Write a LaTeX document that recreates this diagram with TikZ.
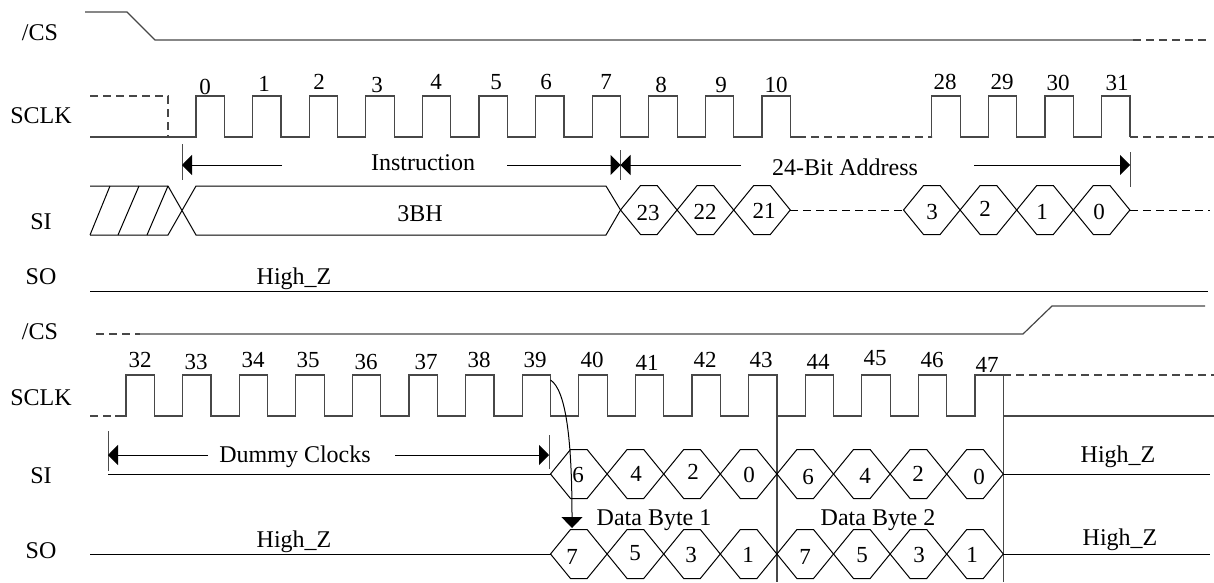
\documentclass[tikz,border=0pt]{standalone}
\usepackage{fontspec}
\setmainfont{Liberation Serif}
\usetikzlibrary{arrows.meta}
\newcommand\myhex[3]{\draw[sig] (#1,#2) -- ++(20,-#3) -- ++(16.6,0) -- ++(20,#3) -- ++(-20,#3) -- ++(-16.6,0) -- cycle;}
\begin{document}
\begin{tikzpicture}[x=1pt,y=-1pt,
  clk/.style={draw=black!72,line width=1.2pt},
  sig/.style={draw=black,line width=1pt},
  dsh/.style={dash pattern=on 8pt off 5pt},
  lbl/.style={font=\fontsize{24}{24}\selectfont,inner sep=0pt,text height=16pt,text depth=0pt},
  num/.style={font=\fontsize{23}{23}\selectfont,inner sep=0pt,text height=15.5pt,text depth=0pt},
  dim/.style={line width=1pt,-{Triangle[length=10pt,width=20pt]}},
  tickln/.style={line width=1pt,draw=black!70}
]
\useasboundingbox (0,0) rectangle (1214,582);

% signal names
\node[lbl] (cs1) at (40,32) {/CS};
\node[lbl] (sclk1) at (41,115) {SCLK};
\node[lbl] (si1) at (41,221) {SI};
\node[lbl] (so1) at (41,276) {SO};
\node[lbl] (cs2) at (40,331) {/CS};
\node[lbl] (sclk2) at (41,397) {SCLK};
\node[lbl] (si2) at (41,475) {SI};
\node[lbl] (so2) at (41,550) {SO};

% ---------- top /CS
\draw[clk] (85,12) -- (127,12) -- (155,40) -- (1133,40);
\draw[clk,dsh] (1133,40) -- (1207,40);

% ---------- top SCLK
\draw[clk,dsh] (90,96) -- (168,96) -- (168,137);
\draw[clk] (90,137) \foreach \k in {0,...,10} { -- ({196+56.6*\k},137) -- ++(0,-41) -- ++(28.3,0) -- ++(0,41) } -- (798,137);
\draw[clk,dsh] (798,137) -- (931.8,137);
\draw[clk] (931.8,137) \foreach \k in {13,...,16} { -- ({196+56.6*\k},137) -- ++(0,-41) -- ++(28.3,0) -- ++(0,41) };
\draw[clk,dsh] (1130,137) -- (1214,137);

\foreach \t/\x/\y [count=\i] in {0/205/87,1/264/84,2/319/82,3/377/85,4/436/82,5/496/82,6/546/82,7/606/82,8/661/85,9/721/85,10/776/85,28/945/82,29/1002/82,30/1058/83,31/1117/83}
  \node[num] (ta\i) at (\x,\y) {\t};

% ---------- Instruction / address dimension
\draw[tickln] (182,144) -- (182,180);
\draw[tickln] (620.5,150) -- (620.5,180);
\draw[tickln] (1130,152) -- (1130,187);
\draw[dim] (282,165) -- (182,165);
\draw[dim] (507,165) -- (620.5,165);
\draw[dim] (741,165) -- (620.5,165);
\draw[dim] (974,165) -- (1130,165);
\node[lbl] (instr) at (423,162) {Instruction};
\node[lbl] (addr) at (845,167) {24-Bit Address};

% ---------- top SI
\draw[sig] (90,186) -- (168,186) -- (196,235) -- (606,235) -- (620.5,210) -- (606,186) -- (196,186) -- (168,235) -- (90,235);
\draw[sig] (90,235) -- (110,186) (118,235) -- (139,186) (147,235) -- (168,186);
\node[lbl] (bh) at (420,213) {3BH};
\foreach \j in {0,1,2} {\myhex{620.5+56.6*\j}{210}{24.5}}
\draw[sig,dsh] (790.3,210) -- (903.5,210);
\foreach \j in {0,1,2,3} {\myhex{903.5+56.6*\j}{210}{24.5}}
\draw[sig,dsh] (1130,210) -- (1210,210);
\foreach \t/\x/\y [count=\i] in {23/648/213,22/705/212,21/764/211,3/932/212,2/985/209,1/1042/212,0/1099/212}
  \node[num] (hs\i) at (\x,\y) {\t};

% ---------- top SO
\draw[sig] (90,291) -- (1208,291);
\node[lbl] (hz1) at (294,276) {High\_Z};

% ---------- bottom /CS
\draw[clk,dsh] (96,334) -- (140,334);
\draw[clk] (140,334) -- (1023,334) -- (1052,306) -- (1205,306);

% ---------- bottom SCLK
\draw[clk,dsh] (90,416) -- (115,416);
\draw[clk] (115,416) \foreach \k in {0,...,15} { -- ({126+56.6*\k},416) -- ++(0,-41) -- ++(28.3,0) -- ++(0,41) } -- (1214,416);
\draw[clk,dsh] (1003.3,375) -- (1214,375);
\draw[clk] (776.9,416) -- (776.9,582);
\draw[clk] (1003.3,416) -- (1003.3,582);
\foreach \t/\x/\y [count=\i] in {32/140/360,33/196/362,34/253/360,35/308/360,36/366/362,37/426/362,38/479/360,39/535/360,40/592/360,41/647/363,42/705/360,43/761/360,44/818/362,45/875/358,46/932/360,47/987/365}
  \node[num] (tb\i) at (\x,\y) {\t};

% ---------- Dummy clocks dimension
\draw[tickln] (108,431) -- (108,471);
\draw[tickln] (549,435) -- (549,469);
\draw[dim] (208,455) -- (108,455);
\draw[dim] (395,455) -- (549,455);
\node[lbl] (dummy) at (295,454) {Dummy Clocks};

% ---------- bottom SI
\draw[sig] (108,474) -- (550.5,474);
\foreach \j in {0,...,7} {\myhex{550.5+56.6*\j}{474}{24.5}}
\draw[sig] (1003.3,474) -- (1210,474);
\foreach \t/\x/\y [count=\i] in {6/578/475,4/636/474,2/693/472,0/749/475,6/808/477,4/865/476,2/918/474,0/979/477}
  \node[num] (hb\i) at (\x,\y) {\t};
\node[lbl] (hz3) at (1118,454) {High\_Z};

% ---------- bottom SO
\draw[sig] (90,554) -- (550.5,554);
\foreach \j in {0,...,7} {\myhex{550.5+56.6*\j}{554}{24.5}}
\draw[sig] (1003.3,554) -- (1210,554);
\foreach \t/\x/\y [count=\i] in {7/572/557,5/635/553,3/691/555,1/748/555,7/805/557,5/862/555,3/919/555,1/972/555}
  \node[num] (ho\i) at (\x,\y) {\t};
\node[lbl] (hz2) at (294,539) {High\_Z};
\node[lbl] (hz4) at (1120,537) {High\_Z};
\node[lbl] (db1) at (654,517) {Data Byte 1};
\node[lbl] (db2) at (878,517) {Data Byte 2};

% ---------- SCLK 39 -> SO arrow
\coordinate (c39) at (550.5,380);
\coordinate (so7) at (572,528);
\draw[line width=1pt,-{Triangle[length=11pt,width=21pt]}] (c39) .. controls (566,390) and (572,440) .. (so7);
\end{tikzpicture}
\end{document}
